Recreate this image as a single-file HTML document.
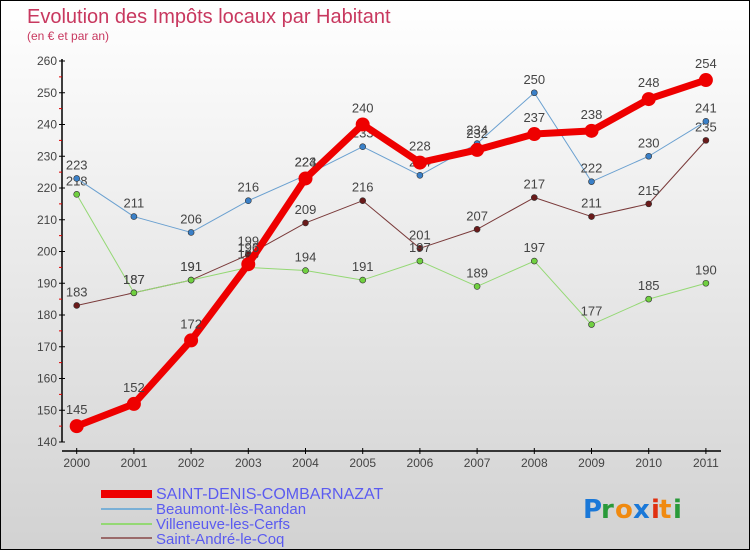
<!DOCTYPE html>
<html><head><meta charset="utf-8"><style>
body{margin:0}
#c{width:748px;height:548px;border:1px solid #000;background:linear-gradient(#fff,#d2d2d2);position:relative;font-family:"Liberation Sans",sans-serif;overflow:hidden}
</style></head><body>
<div id="c">
<svg width="748" height="548" id="svg" style="position:absolute;left:0;top:0" font-family="'Liberation Sans',sans-serif">
<text x="26" y="22" font-size="20" fill="#c8385f">Evolution des Impôts locaux par Habitant</text>
<text x="26" y="39" font-size="12" fill="#c8385f">(en € et par an)</text>
<g id="axes"></g><g id="series"></g>
<g>
<rect x="100" y="489" width="51" height="8" fill="#e00"/>
<text x="155" y="498" font-size="16" fill="#5b5bf0">SAINT-DENIS-COMBARNAZAT</text>
<rect x="100" y="507" width="51" height="2" fill="#7ab0d6"/>
<text x="155" y="513" font-size="15" fill="#5b5bf0">Beaumont-lès-Randan</text>
<rect x="100" y="522" width="51" height="2" fill="#94d874"/>
<text x="155" y="528" font-size="15" fill="#5b5bf0">Villeneuve-les-Cerfs</text>
<rect x="100" y="536" width="51" height="2" fill="#9a6a6a"/>
<text x="155" y="543" font-size="15" fill="#5b5bf0">Saint-André-le-Coq</text>
</g>
<g font-family="'DejaVu Sans',sans-serif" font-size="26" font-weight="bold">
<text x="582" y="517" fill="#1a78d8">P</text><text x="600" y="517" fill="#2a9a3a">r</text><text x="614" y="517" fill="#f08a10">o</text><text x="632" y="517" fill="#1a78d8">x</text><text x="650" y="517" fill="#e03010">i</text><text x="658" y="517" fill="#f08a10">t</text><text x="672" y="517" fill="#2a9a3a">i</text>
</g>
</svg>
</div>
<script>
const years=["2000","2001","2002","2003","2004","2005","2006","2007","2008","2009","2010","2011"];
const yTicks=[140,150,160,170,180,190,200,210,220,230,240,250,260];
const saintDenis=[145,152,172,196,223,240,228,232,237,238,248,254];
const beaumont=[223,211,206,216,224,233,224,234,250,222,230,241];
const villeneuve=[218,187,191,195,194,191,197,189,197,177,185,190];
const saintAndre=[183,187,191,199,209,216,201,207,217,211,215,235];
const NS="http://www.w3.org/2000/svg";
const x=i=>75.7+i*57.2;
const y=v=>441-(v-140)*3.175;
function mk(t,a,p){const e=document.createElementNS(NS,t);for(const k in a)e.setAttribute(k,a[k]);p.appendChild(e);return e;}
const ax=document.getElementById('axes');
const yl=mk('line',{x1:61,y1:58,x2:61,y2:441,stroke:'#000','stroke-width':1.5},ax);


const xl=mk('line',{x1:61,y1:450,x2:720,y2:450,stroke:'#000','stroke-width':1.5},ax);


yTicks.forEach((v,i)=>{
  mk('line',{x1:58,x2:64,y1:y(v),y2:y(v),stroke:'#000'},ax);
  if(i<yTicks.length-1)mk('line',{x1:58,x2:61,y1:y(v+5),y2:y(v+5),stroke:'#d00'},ax);
  const t=mk('text',{x:56,y:y(v)+4,'font-size':12,'text-anchor':'end',fill:'#444'},ax);t.textContent=v;
  
  
});
years.forEach((yr,i)=>{
  mk('line',{x1:x(i),x2:x(i),y1:447,y2:453,stroke:'#000'},ax);
  const t=mk('text',{x:x(i),y:466,'font-size':12,'text-anchor':'middle',fill:'#444'},ax);t.textContent=yr;
  
  
});
const sg=document.getElementById('series');
function draw(data,color,dot,w,r,name){
  const g=mk('g',{},sg);
  
  
  mk('polyline',{points:data.map((v,i)=>x(i)+','+y(v)).join(' '),fill:'none',stroke:color,'stroke-width':w,'stroke-linejoin':'round'},g);
  data.forEach((v,i)=>{
    const c=mk('circle',{cx:x(i),cy:y(v),r:r,fill:dot,stroke:'#333','stroke-width':r>4?0:0.6},g);
    
    
    const t=mk('text',{x:x(i),y:y(v)-9-(r>4?3:0),'font-size':13,'text-anchor':'middle',fill:'#444'},g);t.textContent=v;
    
    
  });
}
draw(saintAndre,'#7a3a3a','#6a1a1a',1,3,'series-saint-andre');
draw(villeneuve,'#94d874','#70d040',1,3,'series-villeneuve');
draw(beaumont,'#6aa0d0','#3a80c8',1,3,'series-beaumont');
draw(saintDenis,'#e00','#e00',7,7,'series-saint-denis');
</script>
</body></html>
